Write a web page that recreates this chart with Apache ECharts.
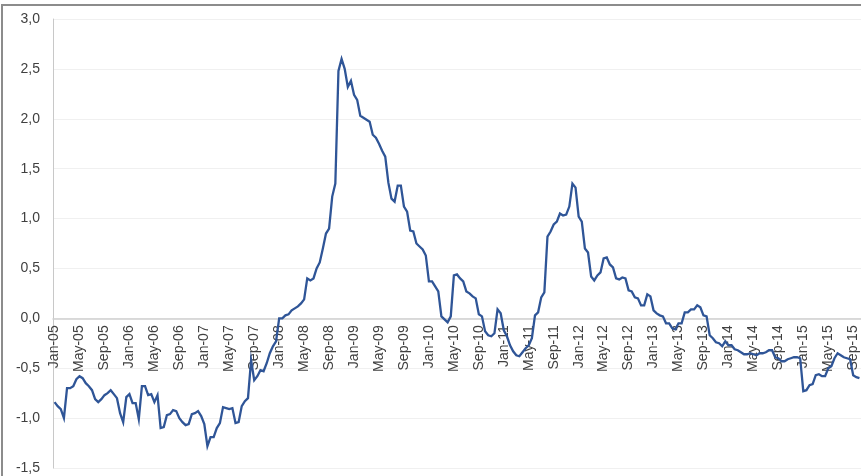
<!DOCTYPE html>
<html>
<head>
<meta charset="utf-8">
<script src="https://cdn.jsdelivr.net/npm/echarts@6/dist/echarts.min.js"></script>
<style>
html,body{margin:0;padding:0;background:#fff;}
#c{width:861px;height:476px;}
</style>
</head>
<body>
<div id="c"></div>
<script>
// Semi-monthly observations, Jan-05 (first half) to Oct-15 (first half)
const values = [
-0.84,-0.88,-0.91,-1.00,-0.70,-0.70,-0.68,-0.61,-0.58,-0.60,
-0.65,-0.68,-0.72,-0.81,-0.84,-0.81,-0.77,-0.75,-0.72,-0.76,
-0.80,-0.95,-1.04,-0.79,-0.76,-0.85,-0.85,-1.01,-0.68,-0.68,
-0.77,-0.76,-0.84,-0.77,-1.10,-1.09,-0.97,-0.96,-0.92,-0.93,
-1.00,-1.04,-1.07,-1.06,-0.96,-0.95,-0.93,-0.98,-1.06,-1.28,
-1.19,-1.19,-1.10,-1.05,-0.89,-0.90,-0.91,-0.90,-1.05,-1.04,
-0.88,-0.83,-0.80,-0.42,-0.62,-0.58,-0.52,-0.53,-0.45,-0.35,
-0.28,-0.23,0.00,0.00,0.03,0.04,0.08,0.10,0.12,0.15,
0.19,0.40,0.38,0.40,0.50,0.56,0.70,0.85,0.90,1.22,
1.35,2.48,2.60,2.50,2.32,2.38,2.24,2.19,2.03,2.01,
1.99,1.97,1.84,1.81,1.75,1.68,1.62,1.36,1.20,1.17,
1.33,1.33,1.12,1.07,0.88,0.87,0.75,0.72,0.69,0.63,
0.37,0.37,0.32,0.27,0.02,-0.01,-0.04,0.02,0.43,0.44,
0.40,0.37,0.27,0.25,0.22,0.20,0.04,0.02,-0.13,-0.17,
-0.18,-0.15,0.09,0.05,-0.12,-0.18,-0.27,-0.33,-0.37,-0.38,
-0.34,-0.30,-0.27,-0.20,0.03,0.06,0.21,0.26,0.82,0.87,
0.94,0.97,1.05,1.03,1.04,1.12,1.35,1.31,1.02,0.97,
0.70,0.66,0.42,0.38,0.43,0.46,0.60,0.61,0.54,0.51,
0.40,0.39,0.41,0.40,0.28,0.27,0.21,0.20,0.13,0.13,
0.24,0.22,0.08,0.05,0.03,0.02,-0.05,-0.05,-0.10,-0.11,
-0.05,-0.05,0.06,0.06,0.09,0.09,0.13,0.11,0.03,0.02,
-0.17,-0.20,-0.24,-0.25,-0.28,-0.23,-0.27,-0.27,-0.31,-0.32,
-0.34,-0.36,-0.36,-0.35,-0.36,-0.37,-0.35,-0.35,-0.34,-0.32,
-0.32,-0.39,-0.40,-0.43,-0.43,-0.41,-0.40,-0.39,-0.39,-0.40,
-0.73,-0.72,-0.67,-0.66,-0.57,-0.56,-0.58,-0.58,-0.50,-0.48,
-0.40,-0.35,-0.37,-0.39,-0.40,-0.41,-0.57,-0.59,-0.60
];

const tickLabels = [
"Jan-05","May-05","Sep-05","Jan-06","May-06","Sep-06","Jan-07","May-07","Sep-07",
"Jan-08","May-08","Sep-08","Jan-09","May-09","Sep-09","Jan-10","May-10","Sep-10",
"Jan-11","May-11","Sep-11","Jan-12","May-12","Sep-12","Jan-13","May-13","Sep-13",
"Jan-14","May-14","Sep-14","Jan-15","May-15","Sep-15"
];

const yMin = -1.5, yMax = 3.0, yStep = 0.5;

// category ids, one per half month
const categories = values.map((_, i) => 'p' + i);

const W = 861, H = 476;
const gridTop = 19, gridBottom = 8;
const plotH = H - gridTop - gridBottom;
// distance from bottom of plot to the zero line (x axis crosses at 0)
const zeroFromBottom = plotH * (0 - yMin) / (yMax - yMin);

const chart = echarts.init(document.getElementById('c'), null, {renderer: 'canvas'});
chart.setOption({
  animation: false,
  backgroundColor: '#ffffff',
  graphic: [{
    type: 'rect',
    shape: {x: 2, y: 5, width: 920, height: 520},
    style: {fill: 'none', stroke: '#8c8c8c', lineWidth: 2},
    z: 100
  }],
  grid: {left: 53, right: 0, top: gridTop, bottom: gridBottom, containLabel: false, outerBoundsMode: 'none'},
  xAxis: {
    type: 'category',
    data: categories,
    boundaryGap: true,
    offset: -zeroFromBottom,
    axisLine: {onZero: false, lineStyle: {color: '#cfcfcf', width: 1.5}},
    axisTick: {show: false},
    axisLabel: {
      interval: 7,
      rotate: 90,
      margin: 7,
      color: '#404040',
      fontFamily: 'Liberation Sans, Arial, sans-serif',
      fontSize: 14,
      formatter: (v, idx) => tickLabels[Math.round(idx / 8)] || ''
    },
    splitLine: {show: false}
  },
  yAxis: {
    type: 'value',
    min: yMin,
    max: yMax,
    interval: yStep,
    axisLine: {show: true, lineStyle: {color: '#c8c8c8', width: 1}},
    axisTick: {show: false},
    axisLabel: {
      margin: 13,
      color: '#404040',
      fontFamily: 'Liberation Sans, Arial, sans-serif',
      fontSize: 14,
      formatter: v => v.toFixed(1).replace('.', ',')
    },
    splitLine: {show: true, lineStyle: {color: '#f0f0f0', width: 1}}
  },
  series: [{
    type: 'line',
    data: values,
    showSymbol: false,
    symbol: 'none',
    lineStyle: {color: '#2f5597', width: 2.3, join: 'miter'},
    z: 3
  }]
});
</script>
</body>
</html>
